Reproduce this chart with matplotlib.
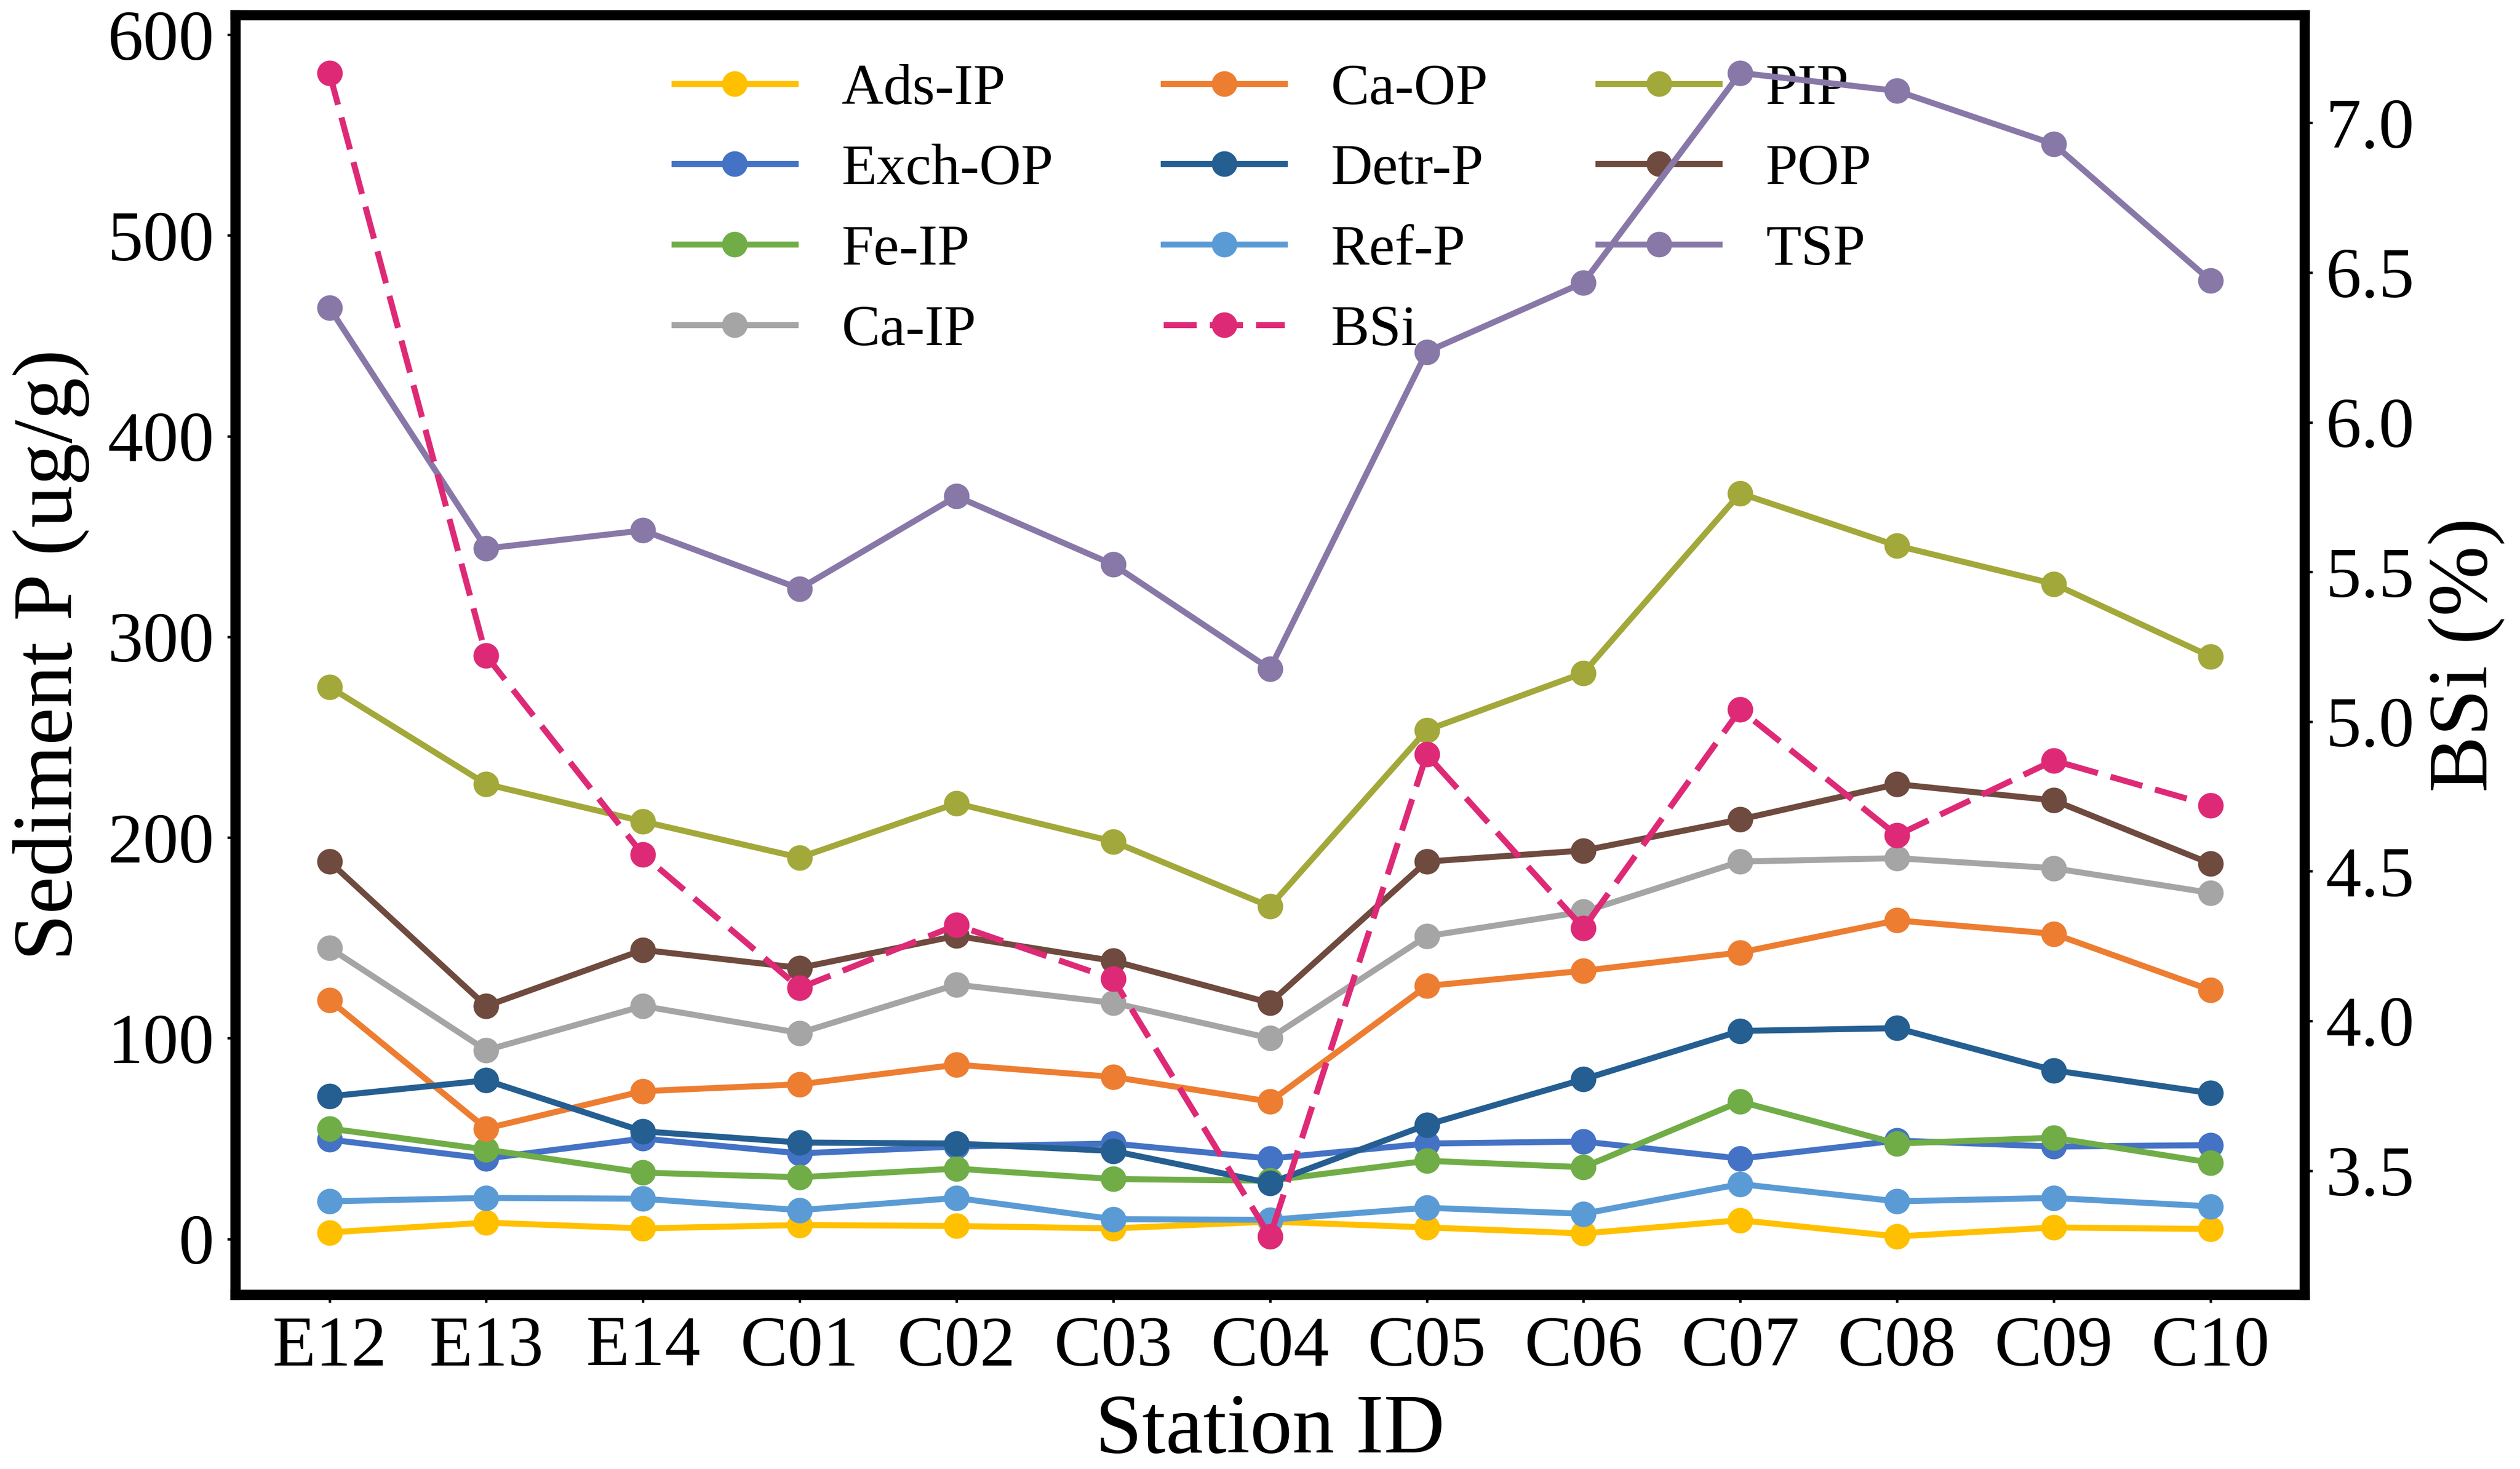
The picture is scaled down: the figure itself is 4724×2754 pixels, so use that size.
import numpy as np
import matplotlib.pyplot as plt
from matplotlib.ticker import MultipleLocator, FormatStrFormatter

plt.rcParams['font.family'] = ['Liberation Serif', 'DejaVu Serif']

stations = ['E12', 'E13', 'E14', 'C01', 'C02', 'C03', 'C04',
            'C05', 'C06', 'C07', 'C08', 'C09', 'C10']

ads_ip = [3.2, 8.1, 5.2, 6.9, 6.4, 5.2, 8.6, 5.7, 2.7, 9.3, 1.2, 5.7, 4.9]
exch_op = [49.5, 40, 50, 42.6, 46, 47.5, 40, 47.5, 48.5, 40, 49, 46, 46.7]
fe_ip = [55, 44.5, 33, 30.7, 35, 29.8, 29, 38.9, 35.7, 68.4, 47.5, 50.4, 38]
ca_ip = [145, 94, 116, 102.6, 126.7, 117.6, 100, 150.8, 163, 188, 189.7, 184.7, 172.4]
ca_op = [119, 55, 73.6, 77, 86.8, 80.7, 68.4, 126, 133.6, 142.7, 158.7, 152, 124]
detr_p = [71, 79, 53.6, 48, 47.5, 43.8, 27.8, 56.8, 79.5, 103.6, 105, 84, 72.6]
ref_p = [18.7, 20.4, 20, 14.3, 20.4, 9.8, 9.5, 15.5, 12.5, 27.3, 18.7, 20.4, 16.2]
pip = [275, 226.6, 208, 190, 217, 198, 165.6, 253.5, 282, 371.5, 345.4, 326.4, 290.2]
pop = [188, 116, 144, 135, 151, 138.5, 117.6, 188, 193.5, 209, 226.6, 218.5, 187]
tsp = [464, 344, 353, 324, 370, 336, 284, 442, 476.5, 581, 572, 545.5, 477.5]
bsi = [7.167, 5.22, 4.555, 4.11, 4.32, 4.14, 3.28, 4.89, 4.31, 5.04, 4.62, 4.87, 4.72]

# name, values, colour (left axis)
left_series = [
    ('Ads-IP', ads_ip, '#FFC000'),
    ('Exch-OP', exch_op, '#4472C4'),
    ('Fe-IP', fe_ip, '#70AD47'),
    ('Ca-IP', ca_ip, '#A5A5A5'),
    ('Ca-OP', ca_op, '#ED7D31'),
    ('Detr-P', detr_p, '#255E91'),
    ('Ref-P', ref_p, '#5B9BD5'),
    ('PIP', pip, '#A3A83A'),
    ('POP', pop, '#6F4A3E'),
    ('TSP', tsp, '#8878A8'),
]

lw = 2.7
ms = 10.5

fig = plt.figure(figsize=(4724 / 300, 2754 / 300), dpi=300)
ax = fig.add_axes([0.0934, 0.1187, 0.9145 - 0.0934, 0.990 - 0.1187])
x = np.arange(len(stations))

handles = {}
for name, vals, col in left_series:
    h, = ax.plot(x, vals, '-o', color=col, lw=lw, ms=ms, label=name)
    handles[name] = h

ax2 = ax.twinx()
hb, = ax2.plot(x, bsi, '--o', color='#DE2A76', lw=lw, ms=ms, label='BSi',
               dashes=(5.5, 2.2))
handles['BSi'] = hb

ax.set_xticks(x)
ax.set_xticklabels(stations)
ax.set_ylabel('Sediment P (ug/g)', fontsize=38, labelpad=8)
ax.set_xlabel('Station ID', fontsize=38, labelpad=6)
ax2.set_ylabel('BSi (%)', fontsize=38, labelpad=6)
ax2.yaxis.set_major_locator(MultipleLocator(0.5))
ax2.yaxis.set_major_formatter(FormatStrFormatter('%.1f'))

for a in (ax, ax2):
    a.tick_params(labelsize=32, length=3.5, width=1.1, pad=6)
    for sp in a.spines.values():
        sp.set_linewidth(4.6)

order = ['Ads-IP', 'Exch-OP', 'Fe-IP', 'Ca-IP', 'Ca-OP', 'Detr-P',
         'Ref-P', 'BSi', 'PIP', 'POP', 'TSP']
leg = ax.legend([handles[n] for n in order], order, ncol=3, frameon=False,
                fontsize=26, loc='upper left', bbox_to_anchor=(0.212, 0.962),
                borderaxespad=0, borderpad=0, handlelength=2.1,
                handletextpad=0.8, columnspacing=1.9, labelspacing=0.48)
leg.set_zorder(1)

fig.savefig('out.png', dpi=300)
